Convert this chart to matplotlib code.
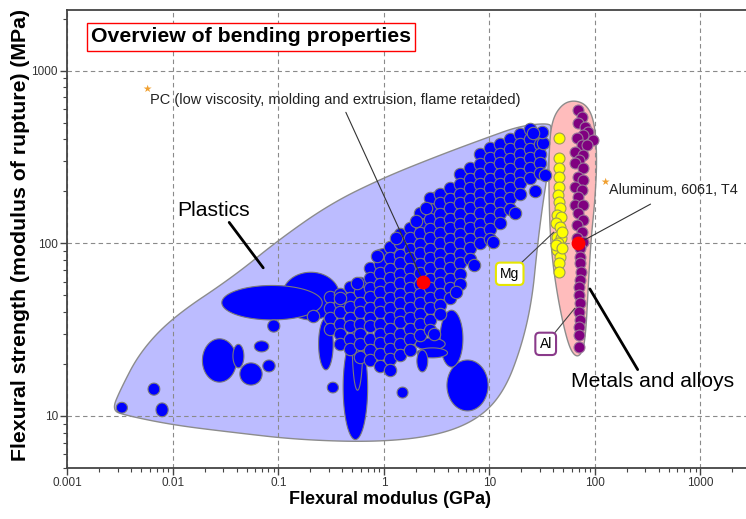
import numpy as np
import matplotlib.pyplot as plt
from matplotlib import font_manager
from matplotlib.ticker import FixedLocator, FuncFormatter, NullFormatter

plt.rcParams['font.family'] = ['Liberation Sans', 'DejaVu Sans']

try:
    font_manager.findfont(font_manager.FontProperties(family='Liberation Sans Narrow'),
                          fallback_to_default=False)
    narrow = True
except ValueError:
    narrow = False

# --- data (modulus in GPa, strength in MPa) ---

# envelope round all plastics
plastics_env_E = [0.00264, 0.00315, 0.00487, 0.01, 0.037, 0.099, 0.308, 0.978, 3.39, 9.9, 19.5,
                  36.6, 39.1, 35.9, 31.4, 28.2, 25.3, 20.3, 14.0, 8.13, 3.39, 0.917, 0.16, 0.0347,
                  0.01, 0.00351]
plastics_env_S = [10.8, 14.1, 23.5, 37.4, 63.8, 104, 169, 239, 324, 413, 478,
                  497, 464, 266, 156, 91.5, 47, 25.8, 14.1, 9.73, 7.76, 7.06, 7.26, 8.07,
                  8.87, 10.1]

# envelope round metals and alloys
metals_env_E = [64.6, 85.9, 100, 104.5, 100, 91.6, 85.9, 82.2, 76.9, 66.1, 55.5, 44.6, 38.3,
                36.6, 36.6, 39.1, 48.7]
metals_env_S = [676, 624, 484, 304, 178, 105, 53.7, 31.5, 23.5, 21.7, 25.8, 47, 91.5,
                178, 347, 518, 641]

# plastic grades with wide property ranges (bubbles): modulus lo/hi, strength lo/hi
bub_E_lo = [0.108, 0.029, 0.019, 0.037, 0.043, 0.059, 0.071, 0.079, 0.0058, 0.0029, 0.0069,
            3.95, 0.41, 3.4, 0.24, 1.97, 2.06, 2.05, 0.82, 0.50, 0.29, 1.33, 2.8]
bub_E_hi = [0.38, 0.26, 0.040, 0.047, 0.070, 0.081, 0.093, 0.103, 0.0075, 0.0037, 0.0090,
            9.7, 0.70, 5.6, 0.33, 3.8, 4.0, 2.6, 1.65, 0.63, 0.37, 1.69, 3.2]
bub_S_lo = [36, 36, 15.7, 19.0, 15.1, 23.5, 18.0, 30.6, 13.2, 10.4, 9.9,
            10.7, 7.3, 19.2, 18.5, 24.1, 21.7, 18.0, 83, 14.1, 13.6, 12.7, 136]
bub_S_hi = [68, 57, 28, 26, 20.3, 27.2, 21.1, 36, 15.5, 12.0, 11.9,
            21.1, 29.4, 41, 37, 28.3, 24.8, 24.1, 94, 49, 15.7, 14.7, 198]

# the dense cloud of plastics: modulus columns and the strengths found in each
cloud_E = [0.31, 0.38, 0.48, 0.59, 0.74, 0.92, 1.14, 1.42, 1.76, 2.19, 2.73,
           3.39, 4.22, 5.25, 6.5, 8.1, 10.1, 12.6, 15.6, 19.4, 24.2, 30]
cloud_S = [
    [49, 42, 37, 32],
    [51, 45, 40, 34, 30, 26],
    [56, 48, 43, 37, 33, 28, 24.5],
    [59, 52, 45, 40, 34, 30, 26, 22],
    [72, 63, 55, 49, 42, 37, 33, 28, 24, 21],
    [76, 67, 58, 52, 45, 40, 34, 30, 26.5, 23, 19.5],
    [95, 82, 71, 63, 55, 48, 42, 37, 32, 28, 24.5, 21.5, 18.5],
    [113, 100, 86, 77, 66, 59, 51, 45, 39, 35, 30, 26, 22.5],
    [122, 107, 93, 82, 71, 62, 55, 48, 42, 37, 32, 28, 24],
    [150, 130, 115, 99, 88, 76, 67, 58, 51, 45, 39, 34, 29.5],
    [182, 158, 139, 121, 107, 93, 82, 72, 62, 55, 48, 42, 36, 31.5],
    [193, 170, 148, 131, 114, 100, 87, 77, 66, 59, 51, 44, 39],
    [208, 181, 160, 138, 122, 106, 94, 81, 72, 62, 55, 48],
    [252, 220, 193, 170, 148, 130, 113, 100, 87, 77, 66, 58],
    [272, 237, 208, 181, 160, 138, 122, 106, 94, 81],
    [330, 288, 252, 220, 193, 170, 149, 130, 114, 100],
    [355, 310, 272, 237, 208, 182, 159, 139, 121, 106],
    [378, 330, 290, 252, 221, 193, 170, 149, 131],
    [402, 352, 309, 270, 237, 208, 182, 159],
    [430, 378, 330, 290, 253, 222, 194],
    [460, 402, 352, 310, 272, 238],
    [432, 378, 331, 290, 255],
]
# single plastic grades round the cloud
extra_E = [0.212, 0.555, 0.383, 10.8, 33.6, 32.1, 31.5, 25.9, 0.85, 1.3, 2.0, 2.5,
           3.0, 4.8, 7.2, 17.5, 27]
extra_S = [37.9, 58.9, 48.2, 102, 248, 381, 441, 435, 84, 108, 135, 160,
           30, 52, 75, 150, 200]

# magnesium alloys
mg_E = [45.7, 45.7, 45.7, 45.7, 45.7, 44.7, 45.7, 46.8, 43.7, 47.9, 42.7, 46.8, 43.7, 47.9,
        44.7, 43.7, 46.8, 45.7, 45.7, 48.9, 42.7, 48.9]
mg_S = [407, 312, 273, 242, 212, 190, 173, 160, 146, 142, 131, 124, 109, 107,
        100.5, 91.5, 83.4, 76.9, 68.2, 116, 98, 94]

# aluminium alloys
al_E = [69.0, 75.3, 69.0, 80.4, 85.9, 95.7, 76.9, 67.5, 75.3, 84.0, 64.6, 76.9, 70.5, 64.6,
        76.9, 69.0, 76.9, 64.6, 75.3, 69.0, 64.6, 76.9, 69.0, 76.9, 67.5, 75.3, 67.5, 76.9,
        72.1, 72.1, 72.1, 73.7, 72.1, 70.5, 70.5, 72.1, 70.5, 72.1, 70.5, 70.5, 70.5]
al_S = [591, 539, 497, 471, 441, 396, 424, 407, 371, 371, 338, 324, 304, 292,
        273, 242, 233, 212, 204, 185, 167, 167, 150, 136, 128, 116, 107, 102,
        94, 83.4, 76.9, 68.2, 61.4, 55.9, 50.2, 45.1, 40.0, 36.0, 32.8, 29.4, 25.1]

# highlighted records
pc_E, pc_S = 2.36, 59.7
al6061_E, al6061_S = 69.5, 100

x_ticks = [0.001, 0.01, 0.1, 1, 10, 100, 1000]
y_ticks = [10, 100, 1000]


def smooth(lx, ly, n=4):
    lx, ly = np.asarray(lx), np.asarray(ly)
    for _ in range(n):
        nx, ny = np.roll(lx, -1), np.roll(ly, -1)
        lx = np.column_stack([0.75 * lx + 0.25 * nx, 0.25 * lx + 0.75 * nx]).ravel()
        ly = np.column_stack([0.75 * ly + 0.25 * ny, 0.25 * ly + 0.75 * ny]).ravel()
    return lx, ly


def envelope(ax, E, S, fc):
    lx, ly = smooth(np.log10(E), np.log10(S))
    ax.fill(10 ** lx, 10 ** ly, facecolor=fc, edgecolor='#8c8c8c', lw=1.0, zorder=0.3)


def bubble(ax, elo, ehi, slo, shi, fc, z):
    t = np.linspace(0, 2 * np.pi, 80)
    cx, rx = (np.log10(elo) + np.log10(ehi)) / 2, (np.log10(ehi) - np.log10(elo)) / 2
    cy, ry = (np.log10(slo) + np.log10(shi)) / 2, (np.log10(shi) - np.log10(slo)) / 2
    ax.fill(10 ** (cx + rx * np.cos(t)), 10 ** (cy + ry * np.sin(t)),
            facecolor=fc, edgecolor='#7a7a7a', lw=0.8, zorder=z)


fig = plt.figure(figsize=(7.46, 5.19), dpi=100)
ax = fig.add_axes([0.0898, 0.0983, 0.9102, 0.8825])
ax.set_xscale('log')
ax.set_yscale('log')
ax.set_xlim(0.000989, 2700)
ax.set_ylim(5.0, 2244)

envelope(ax, plastics_env_E, plastics_env_S, '#bcbcff')
envelope(ax, metals_env_E, metals_env_S, '#ffbcbc')

for i in range(len(bub_E_lo)):
    bubble(ax, bub_E_lo[i], bub_E_hi[i], bub_S_lo[i], bub_S_hi[i], '#0000ff', 2)

cx = [e for e, col in zip(cloud_E, cloud_S) for s in col]
cy = [s for col in cloud_S for s in col]
ax.scatter(cx + extra_E, cy + extra_S, s=80, c='#0000ff', edgecolors='#7a7a7a',
           linewidths=0.8, zorder=3)
ax.scatter(mg_E, mg_S, s=62, c='#ffff00', edgecolors='#9a9a5a', linewidths=0.8, zorder=3)
ax.scatter(al_E, al_S, s=62, c='#800080', edgecolors='#9a7a9a', linewidths=0.8, zorder=3)
ax.scatter([pc_E, al6061_E], [pc_S, al6061_S], s=80, c='#ff0000', zorder=5)

ax.set_axisbelow(True)
ax.grid(True, which='major', ls=(0, (4, 3)), color='#8a8a8a', lw=0.8)
ax.xaxis.set_major_locator(FixedLocator(x_ticks))
ax.yaxis.set_major_locator(FixedLocator(y_ticks))
ax.xaxis.set_minor_locator(FixedLocator([m * t for t in x_ticks for m in range(2, 10)
                                         if m * t < 2700]))
ax.yaxis.set_minor_locator(FixedLocator([m * t for t in [1] + y_ticks for m in range(2, 10)
                                         if 5 <= m * t < 2244]))
fmt = FuncFormatter(lambda v, p: f'{v:g}')
ax.xaxis.set_major_formatter(fmt)
ax.yaxis.set_major_formatter(fmt)
ax.xaxis.set_minor_formatter(NullFormatter())
ax.yaxis.set_minor_formatter(NullFormatter())
tick_size = 10 if narrow else 8.5
ax.tick_params(which='major', direction='out', length=5, width=1, color='#444444',
               labelsize=tick_size, labelcolor='#333333', pad=1.5)
ax.tick_params(which='minor', direction='out', length=3, width=0.8, color='#444444')
ax.spines['right'].set_visible(False)
for side in ['left', 'bottom', 'top']:
    ax.spines[side].set_color('#444444')
    ax.spines[side].set_linewidth(1.3)
if narrow:
    for t in ax.get_xticklabels() + ax.get_yticklabels():
        t.set_fontfamily('Liberation Sans Narrow')

if narrow:
    ax.set_xlabel('Flexural modulus (GPa)', fontsize=16, fontweight='bold',
                  family='Liberation Sans Narrow')
else:
    ax.set_xlabel('Flexural modulus (GPa)', fontsize=13, fontweight='bold')
ax.xaxis.set_label_coords(0.476, -0.050)
ax.set_ylabel('Flexural strength (modulus of rupture) (MPa)', fontsize=15.3, fontweight='bold')
ax.yaxis.set_label_coords(-0.055, 0.509)

ax.text(0.271, 0.941, 'Overview of bending properties', transform=ax.transAxes,
        ha='center', va='center', fontsize=15.3, fontweight='bold',
        bbox=dict(boxstyle='square,pad=0.2', fc='white', ec='#ff0000', lw=1))

# PC record label
ax.text(0.122, 0.803, 'PC (low viscosity, molding and extrusion, flame retarded)',
        transform=ax.transAxes, ha='left', va='center', fontsize=10.5, color='#222222')
ax.text(0.118, 0.827, '★', transform=ax.transAxes, ha='center', va='center',
        fontsize=7.5, color='#f0a030', family='DejaVu Sans')
ax.annotate('', xy=(pc_E, pc_S), xytext=(0.409, 0.782), textcoords='axes fraction',
            arrowprops=dict(arrowstyle='-', color='#333333', lw=0.8), zorder=4)

# Aluminium 6061 label
ax.text(0.798, 0.607, 'Aluminum, 6061, T4', transform=ax.transAxes, ha='left',
        va='center', fontsize=10.4, color='#222222')
ax.text(0.792, 0.624, '★', transform=ax.transAxes, ha='center', va='center',
        fontsize=7.5, color='#f0a030', family='DejaVu Sans')
ax.annotate('', xy=(al6061_E, al6061_S), xytext=(0.863, 0.579), textcoords='axes fraction',
            arrowprops=dict(arrowstyle='-', color='#333333', lw=0.8), zorder=4)

# group labels
ax.annotate('Plastics', xy=(0.289, 0.437), xytext=(0.162, 0.563), xycoords='axes fraction',
            textcoords='axes fraction', ha='left', va='center', fontsize=15.2,
            arrowprops=dict(arrowstyle='-', color='black', lw=2,
                            shrinkA=0, shrinkB=0, relpos=(0.69, 0.0)))
ax.annotate('Metals and alloys', xy=(0.770, 0.391), xytext=(0.742, 0.188),
            xycoords='axes fraction', textcoords='axes fraction', ha='left', va='center',
            fontsize=15.2, arrowprops=dict(arrowstyle='-', color='black', lw=2,
                                           shrinkA=0, shrinkB=0, relpos=(0.42, 1.0)))

ax.annotate('Mg', xy=(0.717, 0.515), xytext=(0.652, 0.424), xycoords='axes fraction',
            textcoords='axes fraction', ha='center', va='center', fontsize=10,
            bbox=dict(boxstyle='round,pad=0.3', fc='white', ec='#e6e600', lw=1.5),
            arrowprops=dict(arrowstyle='-', color='#444444', lw=0.8, shrinkA=0, shrinkB=0))
ax.annotate('Al', xy=(0.748, 0.349), xytext=(0.705, 0.271), xycoords='axes fraction',
            textcoords='axes fraction', ha='center', va='center', fontsize=10,
            bbox=dict(boxstyle='round,pad=0.3', fc='white', ec='#8a3a8a', lw=1.5),
            arrowprops=dict(arrowstyle='-', color='#444444', lw=0.8, shrinkA=0, shrinkB=0))

fig.savefig('out.png', dpi=100)
